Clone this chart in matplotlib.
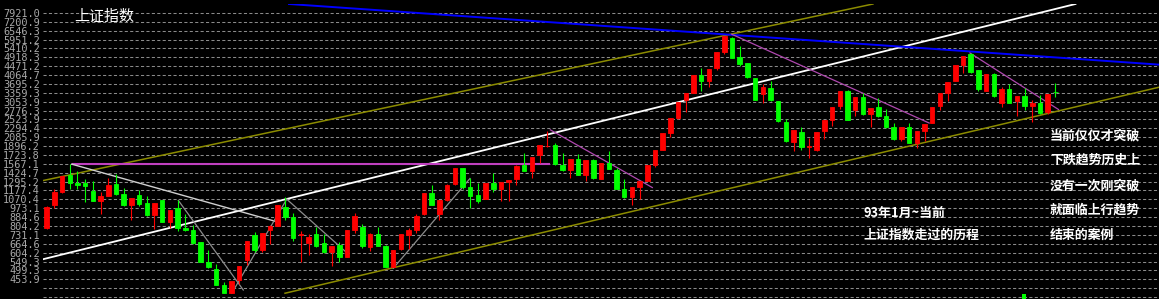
import numpy as np
import matplotlib
matplotlib.use('Agg')
import matplotlib.pyplot as plt
from matplotlib.ticker import NullLocator

# left price scale, each step is x1.1
ytick_labels = ['453.9', '499.3', '549.3', '604.2', '664.6', '731.1', '804.2', '884.6',
                '973.1', '1070.4', '1177.4', '1295.2', '1424.7', '1567.1', '1723.8',
                '1896.2', '2085.9', '2294.4', '2523.9', '2776.3', '3053.9', '3359.3',
                '3695.2', '4064.7', '4471.2', '4918.3', '5410.2', '5951.2', '6546.3',
                '7200.9', '7921.0']
extra_grid = [375.1, 412.6]

# candles, 93年1月 onwards
opens = [786, 1009, 1156, 1383, 1277, 1277, 1177, 1046, 1112, 1264,
         1136, 1009, 1116, 1030, 907, 1059, 843, 974, 788, 767,
         675, 545, 507, 429, 392, 449, 561, 730, 622, 771,
         800, 988, 888, 731, 673, 740, 667, 611, 655, 576,
         767, 795, 644, 735, 649, 519, 626, 730, 773, 910,
         1148, 910, 1059, 1264, 1492, 1226, 1116, 1078, 1269, 1191,
         1293, 1326, 1553, 1449, 1720, 1890, 1909, 1553, 1459, 1642,
         1397, 1625, 1326, 1573, 1459, 1198, 1094, 1219, 1309, 1553,
         1813, 2171, 2550, 3095, 3341, 4050, 3802, 4366, 5208, 6071,
         4933, 4610, 3950, 3301, 3524, 3074, 2453, 1980, 2211, 1880,
         1822, 2219, 2517, 2902, 3430, 2800, 3195, 2683, 2882, 2627,
         2321, 2035, 2321, 1963, 2219, 2429, 2923, 3348, 3818, 4527,
         5075, 4294, 3442, 4111, 3007, 3494, 3063, 3253, 2902, 3026,
         2721, 3380]
highs = [995, 1199, 1375, 1568, 1449, 1330, 1298, 1156, 1344, 1409,
         1211, 1090, 1189, 1108, 1030, 1060, 956, 1059, 916, 814,
         675, 622, 535, 440, 447, 524, 686, 752, 748, 814,
         1010, 1092, 925, 760, 740, 795, 740, 647, 680, 767,
         925, 823, 748, 795, 655, 624, 740, 789, 910, 1142,
         1255, 1060, 1262, 1493, 1502, 1352, 1269, 1275, 1425, 1290,
         1312, 1540, 1752, 1690, 1925, 2241, 1965, 1764, 1645, 1745,
         1627, 1642, 1580, 1796, 1502, 1326, 1220, 1310, 1542, 1820,
         2172, 2552, 3045, 3345, 4068, 4366, 4325, 5231, 6190, 6108,
         5553, 4650, 3952, 3678, 3810, 3076, 2524, 2252, 2332, 2070,
         2210, 2520, 2885, 3435, 3478, 3198, 3363, 2853, 3173, 2822,
         2429, 2323, 2429, 2240, 2413, 2885, 3350, 3766, 4530, 4990,
         5131, 4300, 4115, 4143, 3567, 3685, 3255, 3531, 3095, 3287,
         3332, 3730]
lows = [780, 974, 1150, 1199, 1199, 1038, 1046, 916, 1110, 1121,
        995, 858, 995, 899, 780, 840, 785, 760, 760, 663,
        545, 511, 425, 390, 390, 430, 527, 607, 607, 663,
        800, 856, 684, 546, 588, 643, 603, 523, 546, 575,
        748, 638, 615, 648, 518, 518, 623, 630, 748, 905,
        1003, 857, 1055, 1244, 1191, 972, 1032, 1070, 1158, 1051,
        1051, 1255, 1448, 1339, 1585, 1880, 1553, 1458, 1339, 1387,
        1309, 1338, 1325, 1475, 1200, 1088, 1005, 1069, 1305, 1513,
        1810, 2088, 2548, 2737, 3340, 3424, 3574, 4300, 5112, 4895,
        4480, 3925, 3105, 3021, 3074, 2453, 1980, 1808, 1822, 1674,
        1800, 2035, 2361, 2822, 2500, 2627, 2653, 2321, 2590, 2303,
        2030, 2010, 1960, 1864, 1999, 2425, 2800, 3063, 3800, 4143,
        4143, 3430, 3420, 3206, 2871, 3007, 2627, 2800, 2449, 2683,
        2683, 3206]
closes = [988, 1156, 1369, 1277, 1255, 1229, 1046, 1108, 1251, 1132,
          1009, 1088, 1021, 907, 1030, 843, 956, 788, 771, 671,
          545, 518, 427, 392, 446, 524, 685, 622, 747, 802,
          1009, 883, 710, 735, 717, 649, 611, 646, 576, 767,
          900, 649, 735, 649, 519, 623, 735, 773, 900, 1141,
          1004, 1059, 1255, 1492, 1221, 1109, 1051, 1269, 1191, 1288,
          1311, 1537, 1449, 1689, 1914, 1905, 1567, 1459, 1642, 1397,
          1625, 1339, 1573, 1476, 1202, 1094, 1219, 1309, 1541, 1815,
          2171, 2550, 3042, 3341, 4065, 3802, 4322, 5208, 6184, 4900,
          4557, 3980, 3107, 3574, 3107, 2476, 2000, 2251, 1876, 1890,
          2207, 2517, 2882, 3430, 2519, 3195, 2683, 2851, 2627, 2327,
          2035, 2321, 1963, 2239, 2411, 2882, 3348, 3764, 4527, 4984,
          4219, 3494, 4111, 3231, 3494, 3026, 3253, 2902, 3026, 2703,
          3330, 3370]

# drawn lines: (candle index pair, price pair)
white_trend = ([-0.5, 133.6], [562.6, 8713])
olive_upper = ([-0.5, 107.3], [1309, 8713])
olive_lower = ([30.95, 144.5], [390.7, 3570])
blue_line = ([31.47, 144.5], [8713, 4544])
magenta_flat = ([3.45, 65.2], [1567.1, 1567.1])
magenta_lines = [([65.4, 78.65], [2257, 1215]),
                 ([88.96, 114.6], [6300, 2428]),
                 ([119.9, 131.4], [5150, 2808])]
light_line = ([3.25, 30.08], [1562, 838])
grey_lines = [([17.09, 25.53], [1059, 404.6]),
              ([24.03, 31.17], [390.6, 1072]),
              ([31.17, 39.17], [1072, 595]),
              ([45.01, 54.97], [511, 1339])]
vol_idx = [126.9]
vol_top = [388]

W, H = 1159, 299
fig = plt.figure(figsize=(W / 100, H / 100), dpi=100, facecolor='black')
ax = fig.add_axes([43 / W, 0, 1 - 43 / W, 295 / H], facecolor='black')
ax.set_yscale('log')
ax.set_ylim(367.3, 8713)
ax.set_xlim(-0.48, 144.45)

levels = extra_grid + [float(s) for s in ytick_labels]
ax.set_yticks(levels)
ax.set_yticklabels([''] * len(extra_grid) + ytick_labels)
ax.yaxis.set_minor_locator(NullLocator())
ax.tick_params(axis='y', length=0, pad=2.2, labelcolor='#a8a8a8', labelsize=7.4)
for t in ax.get_yticklabels():
    t.set_family('DejaVu Sans Mono')
ax.set_xticks([])
for s in ax.spines.values():
    s.set_visible(False)
for lv in levels:
    ax.axhline(lv, color='#8a8a8a', lw=0.75, dashes=(3, 2.2), zorder=0)

# trend lines
ax.plot(*olive_upper, color='#8c8c00', lw=1.1, zorder=1)
ax.plot(*olive_lower, color='#8c8c00', lw=1.1, zorder=1)
ax.plot(*white_trend, color='white', lw=1.3, zorder=1)
ax.plot(*blue_line, color='#0000ff', lw=1.4, zorder=1)
ax.plot(*magenta_flat, color='#c040c0', lw=1.5, zorder=1)
for xs, ys in magenta_lines:
    ax.plot(xs, ys, color='#b048b0', lw=0.9, zorder=1)
ax.plot(*light_line, color='#d0d0d0', lw=1.0, zorder=1)
for xs, ys in grey_lines:
    ax.plot(xs, ys, color='#8c8c8c', lw=0.9, zorder=1)

# candles
o = np.array(opens, dtype=float)
c = np.array(closes, dtype=float)
hi = np.array(highs, dtype=float)
lo = np.array(lows, dtype=float)
x = np.arange(len(o))
cols = np.where(c >= o, '#ff0000', '#00ff00')
ax.vlines(x, lo, hi, colors=cols, lw=0.8, zorder=2)
b0 = np.minimum(o, c)
b1 = np.maximum(o, c)
ax.bar(x, b1 - b0, bottom=b0, width=0.58, color=cols, edgecolor=cols, linewidth=0.6, zorder=3)

ax.bar(vol_idx, np.array(vol_top) - 367.3, bottom=367.3, width=0.55, color='#00ff00', zorder=3)

fam = ['Noto Sans CJK SC', 'DejaVu Sans']
fig.text(74 / W, 1 - 16.5 / H, '上证指数', color='white', fontsize=10.8, family=fam, va='center')
fig.text(863 / W, 1 - 212.5 / H, '93年1月~当前', color='white', fontsize=9.3,
         family=fam, weight='bold', va='center')
fig.text(863 / W, 1 - 234.5 / H, '上证指数走过的历程', color='white', fontsize=9.3,
         family=fam, weight='bold', va='center')
right_lines = ['当前仅仅才突破', '下跌趋势历史上', '没有一次刚突破', '就面临上行趋势', '结束的案例']
for i, s in enumerate(right_lines):
    fig.text(1050 / W, 1 - (135 + 25 * i) / H, s, color='white', fontsize=9.3,
             family=fam, weight='bold', va='center')

fig.savefig('out.png', dpi=100, facecolor='black')
